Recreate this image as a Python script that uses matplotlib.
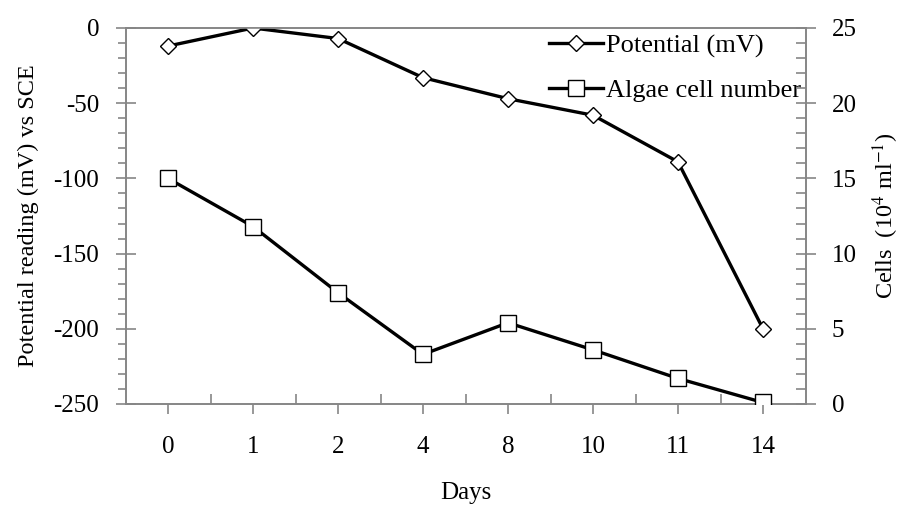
import matplotlib
matplotlib.use("Agg")
import matplotlib.pyplot as plt
from matplotlib.ticker import MultipleLocator, FixedLocator

days = ["0", "1", "2", "4", "8", "10", "11", "14"]
potential = [-12, 0, -7, -33, -47, -58, -89, -200]
algae = [15.0, 11.8, 7.4, 3.3, 5.4, 3.6, 1.7, 0.1]

plt.rcParams['font.family'] = ['Liberation Serif', 'DejaVu Serif']
plt.rcParams['mathtext.fontset'] = 'stix'
plt.rcParams['axes.unicode_minus'] = False

fig = plt.figure(figsize=(9.05, 5.05), dpi=100)
ax = fig.add_axes([125.5/905, 1-404/505, (805.5-125.5)/905, (404-28)/505])
ax2 = ax.twinx()

x = list(range(len(days)))
gray = '#868686'

l1, = ax.plot(x, potential, color='black', lw=2.4, marker='D', ms=8,
              mfc='white', mec='black', mew=1.0, label='Potential (mV)', zorder=3)
l2, = ax2.plot(x, algae, color='black', lw=2.4, marker='s', ms=11,
               mfc='white', mec='black', mew=1.0, label='Algae cell number', zorder=3)

ax.set_xlim(-0.5, len(days) - 0.5)
ax.set_ylim(-250, 0)
ax2.set_ylim(0, 25)

ax.set_xticks(x)
ax.set_xticklabels(days)
ax.xaxis.set_minor_locator(FixedLocator([i + 0.5 for i in range(len(days) - 1)]))
ax.yaxis.set_major_locator(MultipleLocator(50))
ax.yaxis.set_minor_locator(MultipleLocator(10))
ax2.yaxis.set_major_locator(MultipleLocator(5))
ax2.yaxis.set_minor_locator(MultipleLocator(1))

for a in (ax, ax2):
    for s in a.spines.values():
        s.set_color(gray)
        s.set_linewidth(1.2)

fs = 18
ax.tick_params(axis='x', which='major', direction='out', length=7, width=1.2,
               color=gray, labelsize=fs, pad=16)
ax.tick_params(axis='x', which='minor', direction='in', length=7, width=1.2, color=gray)
ax.tick_params(axis='y', which='major', direction='inout', length=14, width=1.2,
               color=gray, labelsize=fs, pad=12)
ax.tick_params(axis='y', which='minor', direction='out', length=6, width=1.2, color=gray)
ax2.tick_params(axis='y', which='major', direction='inout', length=14, width=1.2,
                color=gray, labelsize=fs, pad=12)
ax2.tick_params(axis='y', which='minor', direction='in', length=7, width=1.2, color=gray)

ax.set_xlabel('Days', fontsize=18, labelpad=17)
ax.set_ylabel('Potential reading (mV) vs SCE', fontsize=17.5, labelpad=10)
ax2.set_ylabel('Cells  (10$^4$ ml$^{-1}$)', fontsize=17.5, labelpad=10)

ax.legend([l1, l2], ['Potential (mV)', 'Algae cell number'], loc='upper right',
          frameon=False, fontsize=19, handlelength=2.05, handletextpad=0.1,
          borderaxespad=0.0, borderpad=0.0, labelspacing=0.8,
          bbox_to_anchor=(0.993, 0.985))

fig.savefig('out.png', dpi=100)
